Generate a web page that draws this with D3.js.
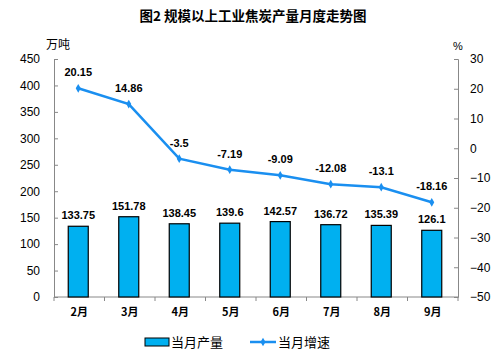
<!DOCTYPE html>
<html><head><meta charset="utf-8">
<script src="https://cdn.jsdelivr.net/npm/d3@7"></script>
<style>body{margin:0;background:#fff}svg{display:block}</style>
</head><body>
<script>
const categories = ["2月","3月","4月","5月","6月","7月","8月","9月"];
const output = [133.75,151.78,138.45,139.6,142.57,136.72,135.39,126.1];
const growth = [20.15,14.86,-3.5,-7.19,-9.09,-12.08,-13.1,-18.16];
const leftTicks = [0,50,100,150,200,250,300,350,400,450];
const rightTicks = [-50,-40,-30,-20,-10,0,10,20,30];

const W=500,H=355;
const m={l:54,r:458,t:59,b:297};
const svg=d3.select("body").append("svg").attr("width",W).attr("height",H);
const font="'Liberation Sans', Arial, sans-serif";
const cjk="'Noto Sans CJK SC', sans-serif";

const x=d3.scaleBand().domain(categories).range([m.l,m.r]).paddingInner(0).paddingOuter(0);
const yL=d3.scaleLinear().domain([0,450]).range([m.b,m.t]);
const yR=d3.scaleLinear().domain([-50,30]).range([m.b,m.t]);

svg.append("text").attr("x",253).attr("y",21).attr("text-anchor","middle")
  .attr("font-family",cjk).attr("font-weight","bold").attr("font-size",13.5).text("图2  规模以上工业焦炭产量月度走势图");
svg.append("text").attr("x",46).attr("y",49).attr("font-family",cjk).attr("font-size",12).text("万吨");
svg.append("text").attr("x",453).attr("y",50).attr("font-family",font).attr("font-size",11).text("%");

const gL=svg.append("g").attr("transform",`translate(${m.l},0)`)
  .call(d3.axisLeft(yL).tickValues(leftTicks).tickSize(-4).tickPadding(10));
const gR=svg.append("g").attr("transform",`translate(${m.r},0)`)
  .call(d3.axisRight(yR).tickValues(rightTicks).tickSize(-4).tickPadding(12));
[gL,gR].forEach(g=>{
  g.select(".domain").attr("stroke","#888");
  g.selectAll(".tick line").attr("stroke","#888");
  g.selectAll("text").attr("font-family",font).attr("font-size",12).attr("fill","#000");
});
gL.selectAll("text").attr("dx","-4");

// x axis
const gX=svg.append("g").attr("transform",`translate(0,${m.b})`);
gX.append("line").attr("x1",m.l).attr("x2",m.r).attr("stroke","#888");
const bounds=categories.map(c=>x(c)).concat([m.r]);
gX.selectAll("line.t").data(bounds).join("line").attr("class","t")
  .attr("x1",d=>d).attr("x2",d=>d).attr("y1",0).attr("y2",4).attr("stroke","#888");
gX.selectAll("text").data(categories).join("text")
  .attr("x",d=>x(d)+x.bandwidth()/2).attr("y",19).attr("text-anchor","middle")
  .attr("font-family",cjk).attr("font-weight","bold").attr("font-size",11).text(d=>d);

// bars
const bw=20;
svg.selectAll("rect.bar").data(output).join("rect").attr("class","bar")
  .attr("x",(d,i)=>x(categories[i])+x.bandwidth()/2-bw/2-1).attr("width",bw)
  .attr("y",d=>yL(d)).attr("height",d=>m.b-yL(d))
  .attr("fill","#00B0F0").attr("stroke","#000").attr("stroke-width",1.2);
svg.selectAll("text.bl").data(output).join("text").attr("class","bl")
  .attr("x",(d,i)=>x(categories[i])+x.bandwidth()/2-1).attr("y",d=>yL(d)-7)
  .attr("text-anchor","middle").attr("font-family",font).attr("font-weight","bold").attr("font-size",11).text(d=>d);

// line
const lc="#1A8FF0";
const line=d3.line().x((d,i)=>x(categories[i])+x.bandwidth()/2-1).y(d=>yR(d));
svg.append("path").datum(growth).attr("d",line).attr("fill","none").attr("stroke",lc).attr("stroke-width",2.5);
svg.selectAll("path.mk").data(growth).join("path").attr("class","mk")
  .attr("d",d3.symbol(d3.symbolDiamond,22))
  .attr("transform",(d,i)=>`translate(${x(categories[i])+x.bandwidth()/2-1},${yR(d)})`).attr("fill",lc);
svg.selectAll("text.ll").data(growth).join("text").attr("class","ll")
  .attr("x",(d,i)=>x(categories[i])+x.bandwidth()/2-1).attr("y",d=>yR(d)-12)
  .attr("text-anchor","middle").attr("font-family",font).attr("font-weight","bold").attr("font-size",11).text(d=>d);

// legend
const lg=svg.append("g");
lg.append("rect").attr("x",145).attr("y",338).attr("width",24).attr("height",8).attr("fill","#00B0F0").attr("stroke","#000");
lg.append("text").attr("x",171).attr("y",347).attr("font-family",cjk).attr("font-size",13).text("当月产量");
lg.append("line").attr("x1",250).attr("x2",276).attr("y1",342).attr("y2",342).attr("stroke",lc).attr("stroke-width",2.5);
lg.append("path").attr("d",d3.symbol(d3.symbolDiamond,22)).attr("transform","translate(263,342)").attr("fill",lc);
lg.append("text").attr("x",278).attr("y",347).attr("font-family",cjk).attr("font-size",13).text("当月增速");
</script>
</body></html>
